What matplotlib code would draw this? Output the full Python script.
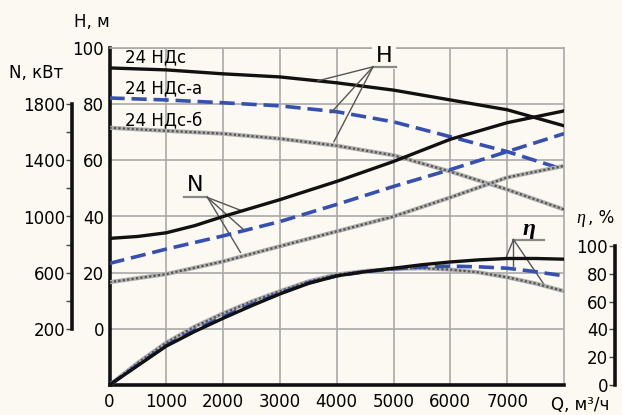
import matplotlib
matplotlib.use("Agg")
import matplotlib.pyplot as plt
import numpy as np

plt.rcParams['font.family'] = ['DejaVu Sans']

# ---------------- data ----------------
q = [0, 1000, 2000, 3000, 4000, 5000, 6000, 7000, 8000]
q_n24 = [0, 500, 1000, 1500, 2000, 2500, 3000, 4000, 5000, 6000, 7000, 8000]
q_eta = [0, 500, 1000, 1500, 2000, 2500, 3000, 3500, 4000, 4500, 5000,
         5500, 6000, 6500, 7000, 7500, 8000]

# Head H, m
h_24 = [92.9, 92.2, 90.8, 89.7, 87.6, 85.0, 81.5, 78.0, 72.3]
h_24a = [82.2, 81.5, 80.5, 79.4, 77.3, 73.7, 68.4, 63.1, 56.7]
h_24b = [71.6, 70.5, 69.5, 67.7, 65.2, 61.8, 56.0, 49.6, 42.5]

# Power N, kW
n_24 = [844, 858, 884, 935, 1000, 1060, 1120, 1250, 1392, 1550, 1668, 1752]
n_24a = [666, 768, 862, 964, 1086, 1214, 1334, 1462, 1590]
n_24b = [532, 590, 680, 788, 894, 1000, 1136, 1278, 1360]

# Efficiency eta, %
eta_24 = [0, 14, 28, 38.5, 48, 57, 65.5, 73, 78.5, 81.5, 84, 86.5, 88.5, 90, 91, 91, 90.5]
eta_24a = [0, 14.5, 28.5, 39.5, 49, 58, 66, 73.5, 78.5, 81.5, 83.5, 85, 85.5, 85, 84, 81.5, 78.5]
eta_24b = [0, 16, 30.5, 42, 51.5, 60, 67.5, 74.5, 79.5, 82, 83.5, 84, 83, 81, 77.5, 73, 67.5]

pump_names = ["24 НДс", "24 НДс-а", "24 НДс-б"]
h_ticks = [0, 20, 40, 60, 80, 100]
n_ticks = [200, 600, 1000, 1400, 1800]
n_minor = [400, 800, 1200, 1600]
eta_ticks = [0, 20, 40, 60, 80, 100]
q_ticks = [0, 1000, 2000, 3000, 4000, 5000, 6000, 7000]

# ---------------- style ----------------
BG = '#fbf9f1'
BLACK = '#111111'
BLUE = '#3550b0'
GRID = '#a9a9a9'
FS = 12

W, H = 622, 415
fig = plt.figure(figsize=(W / 100, H / 100), dpi=100, facecolor=BG)

x0, x1, y0, y1 = 109.5, 564, 48, 385
ax = fig.add_axes([x0 / W, 1 - y1 / H, (x1 - x0) / W, (y1 - y0) / H])
ax.set_facecolor(BG)
ax.set_xlim(0, 8000)
ax.set_ylim(-20, 100)

ax.set_xticks(q_ticks)
ax.set_xticklabels([str(v) for v in q_ticks], fontsize=FS)
ax.set_yticks(h_ticks)
ax.set_yticklabels([str(v) for v in h_ticks], fontsize=FS)
ax.tick_params(axis='x', length=0, pad=6)
ax.tick_params(axis='y', length=0, pad=4)
ax.grid(True, color=GRID, lw=1.2)
ax.set_axisbelow(True)
for s in ['top', 'right']:
    ax.spines[s].set_color(GRID)
    ax.spines[s].set_linewidth(1.2)
ax.spines['left'].set_linewidth(2.6)
ax.spines['bottom'].set_linewidth(2.6)
ax.spines['left'].set_color(BLACK)
ax.spines['bottom'].set_color(BLACK)

# N axis
ax_n = ax.twinx()
ax_n.set_ylim(-200, 2200)
for s in ['top', 'right', 'bottom']:
    ax_n.spines[s].set_visible(False)
ax_n.spines['left'].set_visible(True)
ax_n.spines['left'].set_position(('axes', (72 - x0) / (x1 - x0)))
ax_n.spines['left'].set_bounds(200, 1800)
ax_n.spines['left'].set_linewidth(2.6)
ax_n.spines['left'].set_color(BLACK)
ax_n.yaxis.set_ticks_position('left')
ax_n.set_yticks(n_ticks)
ax_n.set_yticks(n_minor, minor=True)
ax_n.set_yticklabels([str(v) for v in n_ticks], fontsize=FS)
ax_n.tick_params(axis='y', which='major', length=4, width=1.0, pad=1, color='#444444')
ax_n.tick_params(axis='y', which='minor', length=4, width=1.0, color='#444444')

# eta axis
ax_e = ax.twinx()
ax_e.set_ylim(0, 242.4)
for s in ['top', 'right', 'bottom']:
    ax_e.spines[s].set_visible(False)
ax_e.spines['left'].set_visible(True)
ax_e.spines['left'].set_position(('axes', (615 - x0) / (x1 - x0)))
ax_e.spines['left'].set_bounds(0, 100)
ax_e.spines['left'].set_linewidth(2.6)
ax_e.spines['left'].set_color(BLACK)
ax_e.yaxis.set_ticks_position('left')
ax_e.set_yticks(eta_ticks)
ax_e.set_yticklabels([str(v) for v in eta_ticks], fontsize=FS)
ax_e.tick_params(axis='y', length=4, width=1.0, pad=1, color='#444444')


def grey_line(a, xs, ys):
    a.plot(xs, ys, color='#b0b0b0', lw=3.0, solid_capstyle='butt', zorder=3)
    a.plot(xs, ys, color='#555555', lw=1.6, ls=(0, (1, 1)), zorder=3.1)


def blue_line(a, xs, ys):
    a.plot(xs, ys, color=BLUE, lw=2.6, dashes=(4.2, 1.9), zorder=4)


def black_line(a, xs, ys):
    a.plot(xs, ys, color=BLACK, lw=2.4, zorder=5)


# N curves
grey_line(ax_n, q, n_24b)
blue_line(ax_n, q, n_24a)
black_line(ax_n, q_n24, n_24)
# H curves
grey_line(ax, q, h_24b)
blue_line(ax, q, h_24a)
black_line(ax, q, h_24)
# eta curves
black_line(ax_e, q_eta, eta_24)
grey_line(ax_e, q_eta, eta_24b)
blue_line(ax_e, q_eta, eta_24a)

# curve names
for name, yv in zip(pump_names, [96.8, 85.8, 74.4]):
    ax.text(274, yv, name, fontsize=FS, ha='left', va='center', zorder=6)

LEAD = '#555555'
# H annotation
ax.text(4832, 97.3, "H", fontsize=16, ha='center', va='center', zorder=7,
        bbox=dict(facecolor=BG, edgecolor='none', pad=2.5))
ax.plot([4638, 5044], [93.3, 93.3], color='#888888', lw=1.6, zorder=7)
for (qx, hy) in [(3666, 88.3), (3896, 76.9), (3949, 66.6)]:
    ax.plot([4638, qx], [93.3, hy], color=LEAD, lw=1.0, zorder=7)

# N annotation
ax.text(1511, 51.3, "N", fontsize=16, ha='center', va='center', zorder=7)
ax.plot([1316, 1723], [46.8, 46.8], color='#888888', lw=1.6, zorder=7)
for (qx, hy) in [(2359, 41.8), (2394, 34.7), (2306, 27.2)]:
    ax.plot([1723, qx], [46.8, hy], color=LEAD, lw=1.0, zorder=7)

# eta annotation
ax.text(7376, 35.2, "η", fontsize=17, ha='center', va='center', zorder=7,
        family='Liberation Serif', style='italic', weight='bold')
ax.plot([7111, 7641], [31.8, 31.8], color='#888888', lw=1.6, zorder=7)
for (qx, hy) in [(6988, 25.8), (7111, 22.3), (7659, 15.5)]:
    ax.plot([7111, qx], [31.8, hy], color=LEAD, lw=1.0, zorder=7)

# axis titles
fig.text(92 / W, 1 - 22 / H, "H, м", fontsize=FS, ha='center', va='center')
fig.text(36 / W, 1 - 73 / H, "N, кВт", fontsize=FS, ha='center', va='center')
fig.text(576 / W, 1 - 218 / H, "η", fontsize=FS + 1, ha='left', va='center',
         family='Liberation Serif', style='italic')
fig.text(588 / W, 1 - 218 / H, ", %", fontsize=FS, ha='left', va='center')
fig.text(580 / W, 1 - 405 / H, "Q, м³/ч", fontsize=FS, ha='center', va='center')

fig.savefig("out.png", dpi=100, facecolor=BG)
